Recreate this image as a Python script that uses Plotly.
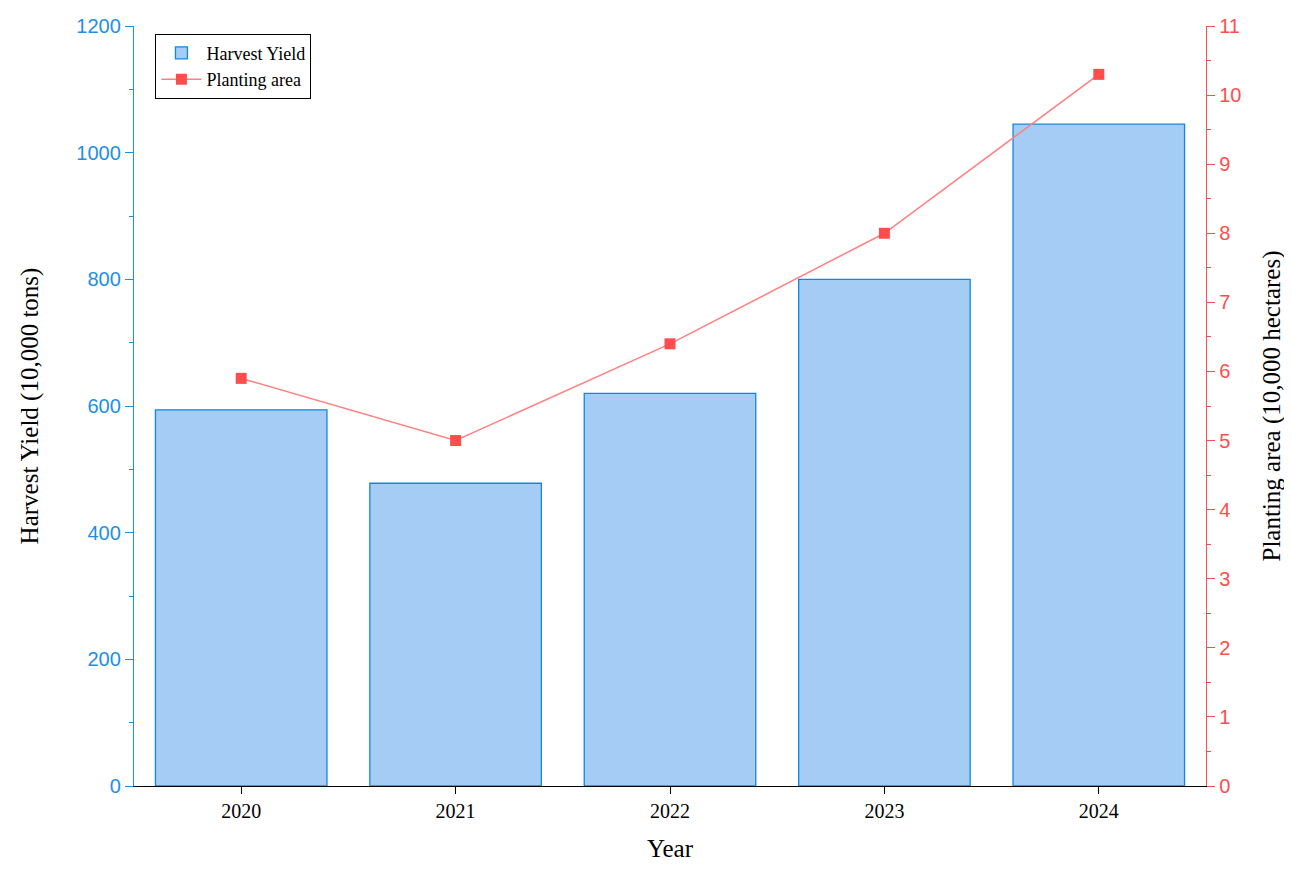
import plotly.graph_objects as go

years = ["2020", "2021", "2022", "2023", "2024"]
harvest_yield = [594, 478, 620, 800, 1045]
planting_area = [5.9, 5.0, 6.4, 8.0, 10.3]

BLUE = "#1E8FE6"
RED = "#FF4D4D"
FONT = "Liberation Serif"

fig = go.Figure()
fig.add_trace(go.Bar(x=years, y=harvest_yield, name="Harvest Yield", width=0.8,
                     marker=dict(color="#A4CCF4", line=dict(color="#1386E0", width=1.3))))
fig.add_trace(go.Scatter(x=years, y=planting_area, name="Planting area", yaxis="y2",
                         mode="lines+markers",
                         line=dict(color="#FF8080", width=1.5),
                         marker=dict(symbol="square", size=11, color=RED)))

fig.update_layout(
    width=1292, height=870, plot_bgcolor="white", paper_bgcolor="white",
    margin=dict(l=126, r=94, t=18, b=92),
    font=dict(family=FONT, size=18, color="black"),
    showlegend=True,
    legend=dict(x=0.02, y=0.99, xanchor="left", yanchor="top",
                bordercolor="black", borderwidth=1, bgcolor="white",
                font=dict(family=FONT, size=18), itemwidth=40, tracegroupgap=0),
    xaxis=dict(title=dict(text="Year", font=dict(size=25), standoff=18), range=[-0.5, 4.5],
               automargin=False,
               showline=True, linecolor="black", linewidth=1.3, ticks="outside",
               ticklen=7, tickcolor="black", tickfont=dict(size=20), showgrid=False),
    yaxis=dict(title=dict(text="Harvest Yield (10,000 tons)", font=dict(size=25), standoff=30),
               automargin=False,
               range=[0, 1200], dtick=200, showline=True, linecolor=BLUE, linewidth=1.3,
               ticks="outside", ticklen=8, tickcolor=BLUE, tickfont=dict(color=BLUE, size=20, family="Liberation Sans"),
               minor=dict(dtick=100, ticks="outside", ticklen=4, tickcolor=BLUE),
               showgrid=False, zeroline=False),
    yaxis2=dict(title=dict(text="Planting area (10,000 hectares)", font=dict(size=25), standoff=22),
                automargin=False,
                overlaying="y", side="right", range=[0, 11], dtick=1,
                showline=True, linecolor=RED, linewidth=1.3, ticks="outside", ticklen=8,
                tickcolor=RED, tickfont=dict(color=RED, size=20, family="Liberation Sans"),
                minor=dict(dtick=0.5, ticks="outside", ticklen=4, tickcolor=RED),
                showgrid=False, zeroline=False),
)
fig.write_html("out.html")
